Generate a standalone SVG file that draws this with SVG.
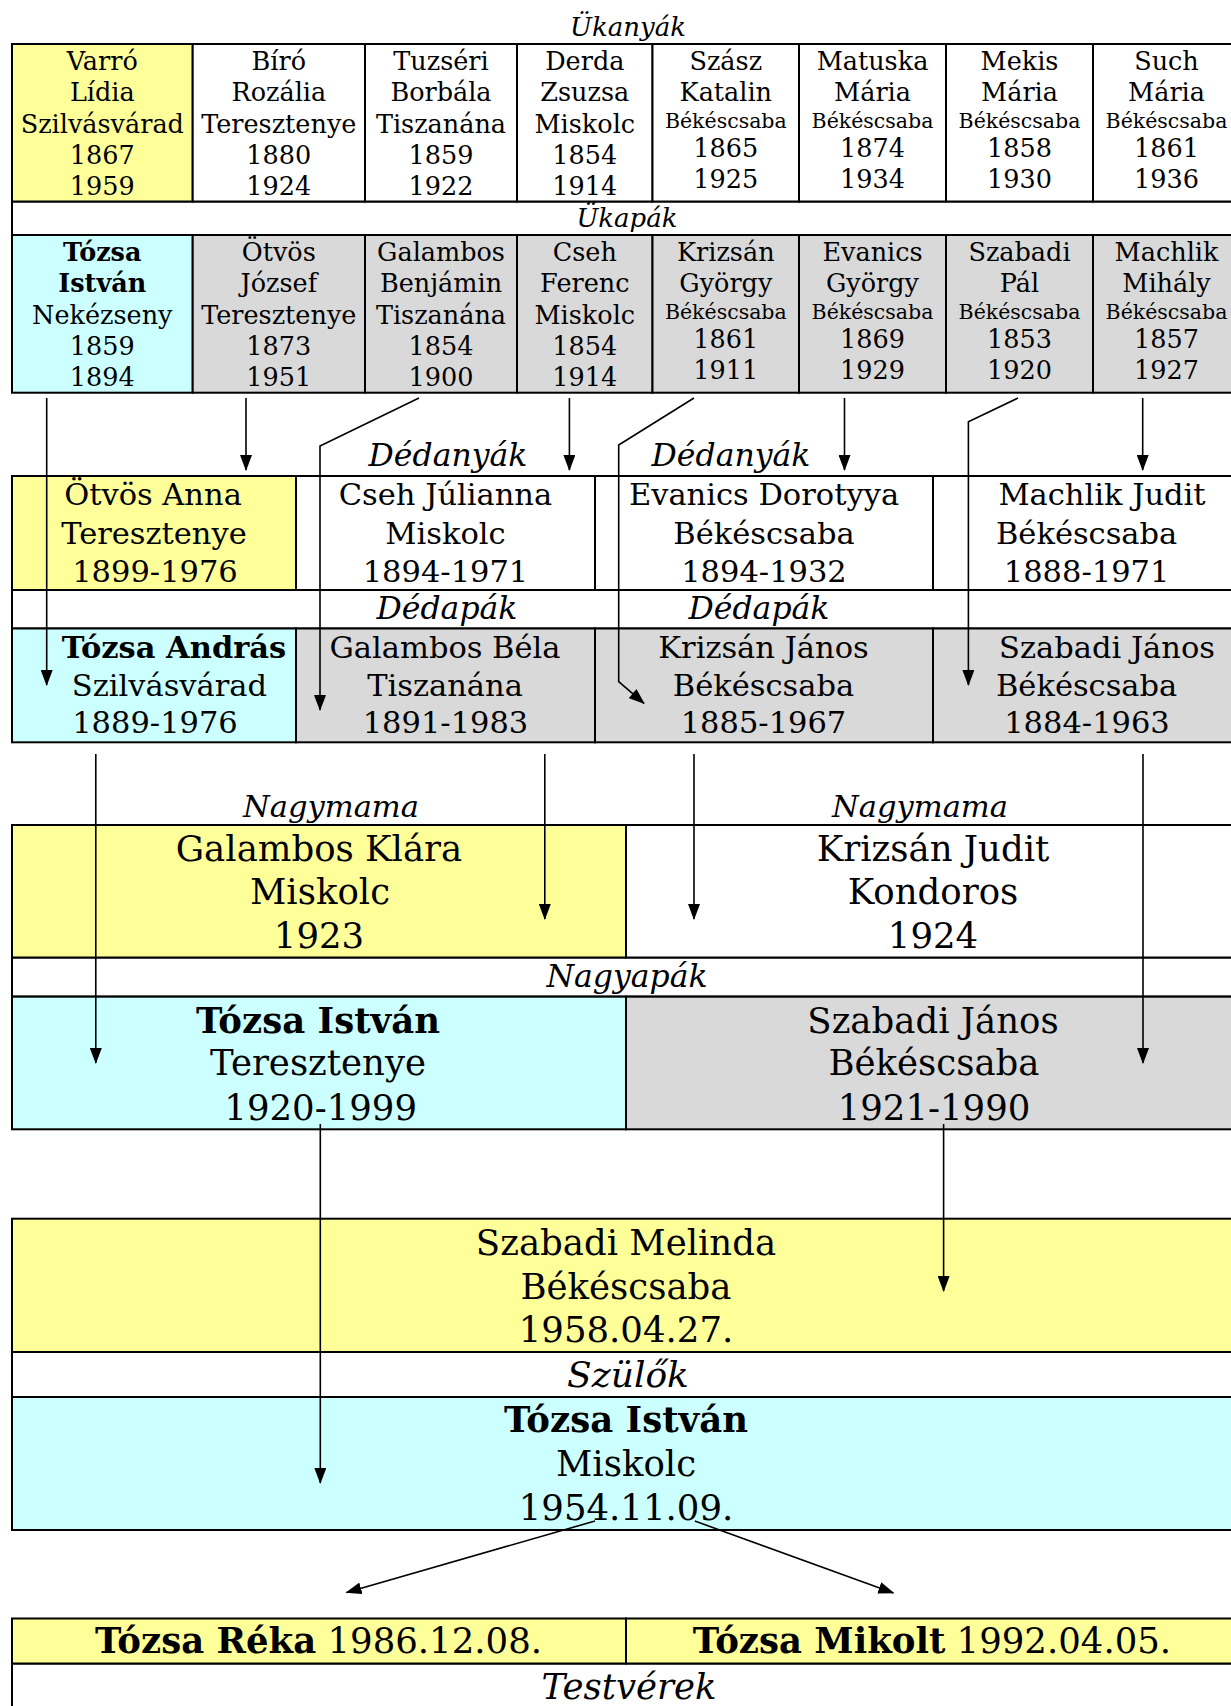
<svg xmlns="http://www.w3.org/2000/svg" width="1231" height="1706" viewBox="0 0 1231 1706">
<style>
.cell{stroke:#000;stroke-width:2}
.y{fill:#FFFF99}.b{fill:#CCFFFF}.g{fill:#D9D9D9}.w{fill:#FFFFFF}
text{font-family:"DejaVu Serif","Liberation Serif",serif;text-anchor:middle;fill:#000}
.f1{font-size:25.5px}.f1s{font-size:20.5px}.f2{font-size:30.5px}.f3{font-size:35.5px}
.l1{font-size:26px}.l2{font-size:31.5px}.lnm{font-size:30.5px}.lnp{font-size:31.5px}.lsz{font-size:36px}.lts{font-size:35.5px}
.it{font-style:italic}.bd{font-weight:bold}
.con{fill:none;stroke:#000;stroke-width:1.6}
.arr{marker-end:url(#ah)}
</style>
<defs>
<marker id="ah" markerUnits="userSpaceOnUse" markerWidth="16" markerHeight="12" refX="15" refY="6" orient="auto">
<path d="M0,0 L16,6 L0,12 z" fill="#000"/>
</marker>
</defs>
<rect width="1231" height="1706" fill="#fff"/>

<g id="labels">
<text class="l1 it" x="628" y="36">Ükanyák</text>
<rect class="cell w" x="12" y="201.5" width="1228" height="33.5"/>
<text class="l1 it" x="627" y="227">Ükapák</text>
<text class="l2 it" x="448" y="466">Dédanyák</text>
<text class="l2 it" x="731" y="466">Dédanyák</text>
<rect class="cell w" x="12" y="590" width="1228" height="38.5"/>
<text class="l2 it" x="447" y="619">Dédapák</text>
<text class="l2 it" x="759" y="619">Dédapák</text>
<text class="lnm it" x="331" y="817">Nagymama</text>
<text class="lnm it" x="920" y="817">Nagymama</text>
<rect class="cell w" x="12" y="957.5" width="1228" height="39"/>
<text class="lnp it" x="627" y="987">Nagyapák</text>
<rect class="cell w" x="12" y="1352" width="1228" height="45"/>
<text class="lsz it" x="628" y="1387">Szülők</text>
<rect class="cell w" x="12" y="1663.5" width="1228" height="60"/>
<text class="lts it" x="629" y="1699">Testvérek</text>
</g>

<g id="uk1">
<rect class="cell y" x="12" y="44" width="180.7" height="157.5"/>
<text class="f1"><tspan x="102.3" y="70">Varró</tspan><tspan x="102.3" y="101">Lídia</tspan><tspan x="102.3" y="132.7">Szilvásvárad</tspan><tspan x="102.3" y="164">1867</tspan><tspan x="102.3" y="195">1959</tspan></text>
</g>
<g id="uk2">
<rect class="cell w" x="192.7" y="44" width="172.3" height="157.5"/>
<text class="f1"><tspan x="278.8" y="70">Bíró</tspan><tspan x="278.8" y="101">Rozália</tspan><tspan x="278.8" y="132.7">Teresztenye</tspan><tspan x="278.8" y="164">1880</tspan><tspan x="278.8" y="195">1924</tspan></text>
</g>
<g id="uk3">
<rect class="cell w" x="365" y="44" width="152" height="157.5"/>
<text class="f1"><tspan x="441" y="70">Tuzséri</tspan><tspan x="441" y="101">Borbála</tspan><tspan x="441" y="132.7">Tiszanána</tspan><tspan x="441" y="164">1859</tspan><tspan x="441" y="195">1922</tspan></text>
</g>
<g id="uk4">
<rect class="cell w" x="517" y="44" width="135.5" height="157.5"/>
<text class="f1"><tspan x="584.8" y="70">Derda</tspan><tspan x="584.8" y="101">Zsuzsa</tspan><tspan x="584.8" y="132.7">Miskolc</tspan><tspan x="584.8" y="164">1854</tspan><tspan x="584.8" y="195">1914</tspan></text>
</g>
<g id="uk5">
<rect class="cell w" x="652.5" y="44" width="146.5" height="157.5"/>
<text class="f1"><tspan x="725.8" y="70">Szász</tspan><tspan x="725.8" y="101">Katalin</tspan><tspan class="f1s" x="725.8" y="127.5">Békéscsaba</tspan><tspan x="725.8" y="157">1865</tspan><tspan x="725.8" y="188">1925</tspan></text>
</g>
<g id="uk6">
<rect class="cell w" x="799" y="44" width="147" height="157.5"/>
<text class="f1"><tspan x="872.5" y="70">Matuska</tspan><tspan x="872.5" y="101">Mária</tspan><tspan class="f1s" x="872.5" y="127.5">Békéscsaba</tspan><tspan x="872.5" y="157">1874</tspan><tspan x="872.5" y="188">1934</tspan></text>
</g>
<g id="uk7">
<rect class="cell w" x="946" y="44" width="147" height="157.5"/>
<text class="f1"><tspan x="1019.5" y="70">Mekis</tspan><tspan x="1019.5" y="101">Mária</tspan><tspan class="f1s" x="1019.5" y="127.5">Békéscsaba</tspan><tspan x="1019.5" y="157">1858</tspan><tspan x="1019.5" y="188">1930</tspan></text>
</g>
<g id="uk8">
<rect class="cell w" x="1093" y="44" width="147" height="157.5"/>
<text class="f1"><tspan x="1166.5" y="70">Such</tspan><tspan x="1166.5" y="101">Mária</tspan><tspan class="f1s" x="1166.5" y="127.5">Békéscsaba</tspan><tspan x="1166.5" y="157">1861</tspan><tspan x="1166.5" y="188">1936</tspan></text>
</g>

<g id="up1">
<rect class="cell b" x="12" y="235" width="180.7" height="157.7"/>
<text class="f1"><tspan class="bd" x="102.3" y="261">Tózsa</tspan><tspan class="bd" x="102.3" y="292">István</tspan><tspan x="102.3" y="323.7">Nekézseny</tspan><tspan x="102.3" y="355">1859</tspan><tspan x="102.3" y="386">1894</tspan></text>
</g>
<g id="up2">
<rect class="cell g" x="192.7" y="235" width="172.3" height="157.7"/>
<text class="f1"><tspan x="278.8" y="261">Ötvös</tspan><tspan x="278.8" y="292">József</tspan><tspan x="278.8" y="323.7">Teresztenye</tspan><tspan x="278.8" y="355">1873</tspan><tspan x="278.8" y="386">1951</tspan></text>
</g>
<g id="up3">
<rect class="cell g" x="365" y="235" width="152" height="157.7"/>
<text class="f1"><tspan x="441" y="261">Galambos</tspan><tspan x="441" y="292">Benjámin</tspan><tspan x="441" y="323.7">Tiszanána</tspan><tspan x="441" y="355">1854</tspan><tspan x="441" y="386">1900</tspan></text>
</g>
<g id="up4">
<rect class="cell g" x="517" y="235" width="135.5" height="157.7"/>
<text class="f1"><tspan x="584.8" y="261">Cseh</tspan><tspan x="584.8" y="292">Ferenc</tspan><tspan x="584.8" y="323.7">Miskolc</tspan><tspan x="584.8" y="355">1854</tspan><tspan x="584.8" y="386">1914</tspan></text>
</g>
<g id="up5">
<rect class="cell g" x="652.5" y="235" width="146.5" height="157.7"/>
<text class="f1"><tspan x="725.8" y="261">Krizsán</tspan><tspan x="725.8" y="292">György</tspan><tspan class="f1s" x="725.8" y="318.5">Békéscsaba</tspan><tspan x="725.8" y="348">1861</tspan><tspan x="725.8" y="379">1911</tspan></text>
</g>
<g id="up6">
<rect class="cell g" x="799" y="235" width="147" height="157.7"/>
<text class="f1"><tspan x="872.5" y="261">Evanics</tspan><tspan x="872.5" y="292">György</tspan><tspan class="f1s" x="872.5" y="318.5">Békéscsaba</tspan><tspan x="872.5" y="348">1869</tspan><tspan x="872.5" y="379">1929</tspan></text>
</g>
<g id="up7">
<rect class="cell g" x="946" y="235" width="147" height="157.7"/>
<text class="f1"><tspan x="1019.5" y="261">Szabadi</tspan><tspan x="1019.5" y="292">Pál</tspan><tspan class="f1s" x="1019.5" y="318.5">Békéscsaba</tspan><tspan x="1019.5" y="348">1853</tspan><tspan x="1019.5" y="379">1920</tspan></text>
</g>
<g id="up8">
<rect class="cell g" x="1093" y="235" width="147" height="157.7"/>
<text class="f1"><tspan x="1166.5" y="261">Machlik</tspan><tspan x="1166.5" y="292">Mihály</tspan><tspan class="f1s" x="1166.5" y="318.5">Békéscsaba</tspan><tspan x="1166.5" y="348">1857</tspan><tspan x="1166.5" y="379">1927</tspan></text>
</g>

<g id="da1">
<rect class="cell y" x="12" y="476" width="284" height="114"/>
<text class="f2"><tspan x="153" y="505">Ötvös Anna</tspan><tspan x="154" y="544">Teresztenye</tspan><tspan x="155" y="581.5">1899-1976</tspan></text>
</g>
<g id="da2">
<rect class="cell w" x="296" y="476" width="299" height="114"/>
<text class="f2"><tspan x="445.5" y="505">Cseh Júlianna</tspan><tspan x="445.5" y="544">Miskolc</tspan><tspan x="445.5" y="581.5">1894-1971</tspan></text>
</g>
<g id="da3">
<rect class="cell w" x="595" y="476" width="338" height="114"/>
<text class="f2"><tspan x="764" y="505">Evanics Dorotyya</tspan><tspan x="764" y="544">Békéscsaba</tspan><tspan x="764" y="581.5">1894-1932</tspan></text>
</g>
<g id="da4">
<rect class="cell w" x="933" y="476" width="307" height="114"/>
<text class="f2"><tspan x="1102" y="505">Machlik Judit</tspan><tspan x="1086.6" y="544">Békéscsaba</tspan><tspan x="1086.6" y="581.5">1888-1971</tspan></text>
</g>

<g id="dp1">
<rect class="cell b" x="12" y="628.5" width="284" height="113.8"/>
<text class="f2"><tspan class="bd" x="174" y="658.3">Tózsa András</tspan><tspan x="169.4" y="696">Szilvásvárad</tspan><tspan x="155" y="733.3">1889-1976</tspan></text>
</g>
<g id="dp2">
<rect class="cell g" x="296" y="628.5" width="299" height="113.8"/>
<text class="f2"><tspan x="445" y="658.3">Galambos Béla</tspan><tspan x="445" y="696">Tiszanána</tspan><tspan x="445.5" y="733.3">1891-1983</tspan></text>
</g>
<g id="dp3">
<rect class="cell g" x="595" y="628.5" width="338" height="113.8"/>
<text class="f2"><tspan x="763.5" y="658.3">Krizsán János</tspan><tspan x="763.5" y="696">Békéscsaba</tspan><tspan x="763.5" y="733.3">1885-1967</tspan></text>
</g>
<g id="dp4">
<rect class="cell g" x="933" y="628.5" width="307" height="113.8"/>
<text class="f2"><tspan x="1107" y="658.3">Szabadi János</tspan><tspan x="1086.6" y="696">Békéscsaba</tspan><tspan x="1087" y="733.3">1884-1963</tspan></text>
</g>

<g id="nm1">
<rect class="cell y" x="12" y="825" width="614" height="132.5"/>
<text class="f3"><tspan x="319" y="860.7">Galambos Klára</tspan><tspan x="320" y="904">Miskolc</tspan><tspan x="319" y="948.3">1923</tspan></text>
</g>
<g id="nm2">
<rect class="cell w" x="626" y="825" width="614" height="132.5"/>
<text class="f3"><tspan x="933" y="860.7">Krizsán Judit</tspan><tspan x="933" y="904">Kondoros</tspan><tspan x="933" y="948.3">1924</tspan></text>
</g>
<g id="np1">
<rect class="cell b" x="12" y="996.7" width="614" height="132.6"/>
<text class="f3"><tspan class="bd" x="318" y="1032.7">Tózsa István</tspan><tspan x="318" y="1075">Teresztenye</tspan><tspan x="320.7" y="1120">1920-1999</tspan></text>
</g>
<g id="np2">
<rect class="cell g" x="626" y="996.7" width="614" height="132.6"/>
<text class="f3"><tspan x="933" y="1032.7">Szabadi János</tspan><tspan x="934" y="1075">Békéscsaba</tspan><tspan x="934" y="1120">1921-1990</tspan></text>
</g>

<g id="anya">
<rect class="cell y" x="12" y="1218.7" width="1228" height="133.3"/>
<text class="f3"><tspan x="626" y="1254.8">Szabadi Melinda</tspan><tspan x="626" y="1298.8">Békéscsaba</tspan><tspan x="626" y="1342">1958.04.27.</tspan></text>
</g>
<g id="apa">
<rect class="cell b" x="12" y="1397" width="1228" height="133"/>
<text class="f3"><tspan class="bd" x="626" y="1431.7">Tózsa István</tspan><tspan x="626" y="1476.4">Miskolc</tspan><tspan x="626" y="1519.8">1954.11.09.</tspan></text>
</g>
<g id="reka">
<rect class="cell y" x="12" y="1618.5" width="614" height="45"/>
<text class="f3" x="318.5" y="1653.3"><tspan class="bd">Tózsa Réka</tspan> 1986.12.08.</text>
</g>
<g id="mikolt">
<rect class="cell y" x="626" y="1618.5" width="614" height="45"/>
<text class="f3" x="932" y="1653.3"><tspan class="bd">Tózsa Mikolt</tspan> 1992.04.05.</text>
</g>

<g id="connectors">
<path class="con arr" d="M46.7,398 V685"/>
<path class="con arr" d="M246,398 V470"/>
<path class="con arr" d="M419,398 L320,446 V710"/>
<path class="con arr" d="M569.4,398 V470"/>
<path class="con arr" d="M694,398 L618.7,445 V681.7 L644,703.3"/>
<path class="con arr" d="M844.5,398 V470"/>
<path class="con arr" d="M1018,398 L968.4,421.7 V685"/>
<path class="con arr" d="M1142.7,398 V470"/>
<path class="con arr" d="M95.8,754 V1063"/>
<path class="con arr" d="M544.8,754 V919"/>
<path class="con arr" d="M694,754 V919"/>
<path class="con arr" d="M1143,754 V1063"/>
<path class="con arr" d="M320.3,1124 V1483"/>
<path class="con arr" d="M943.6,1124 V1291"/>
<path class="con arr" d="M595,1521 L346.5,1592.5"/>
<path class="con arr" d="M694.8,1521 L893.4,1593"/>
</g>
</svg>
